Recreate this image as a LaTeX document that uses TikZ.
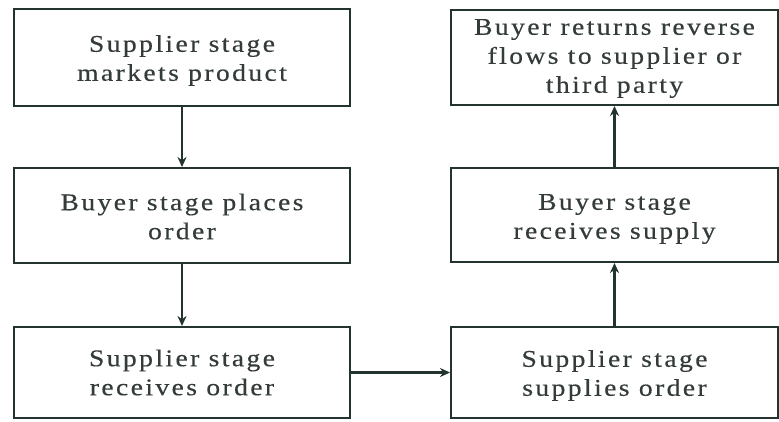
\documentclass[tikz,border=0pt]{standalone}
\usepackage{fontspec}
\setmainfont[FakeStretch=1.15, LetterSpace=10, FakeBold=0.4]{Liberation Serif}
\usetikzlibrary{arrows.meta}
\definecolor{ink}{HTML}{23332E}
\definecolor{txt}{HTML}{333C39}
\begin{document}
\begin{tikzpicture}[x=1pt,y=-1pt,
  stage/.style={draw=ink, line width=2pt, inner sep=0pt},
  words/.style={align=center, text=txt, inner sep=0pt,
    font=\fontsize{24}{29}\selectfont},
  flow/.style={draw=ink, line width=2.2pt,
    -{Stealth[length=10pt,width=9pt]}}]
\useasboundingbox (0,0) rectangle (779,421);
% left column: boxes
\node[stage, minimum width=336pt, minimum height=97pt] (sm) at (182,57.5) {};
\node[stage, minimum width=336pt, minimum height=95pt] (bp) at (182,215.5) {};
\node[stage, minimum width=336pt, minimum height=91pt] (sr) at (182,372.5) {};
% right column: boxes
\node[stage, minimum width=327pt, minimum height=95pt] (br) at (614.5,57.5) {};
\node[stage, minimum width=327pt, minimum height=94pt] (bs) at (614.5,215) {};
\node[stage, minimum width=327pt, minimum height=91pt] (ss) at (614.5,372.5) {};
% box texts
\node[words] (sm-t) at ([yshift=-3pt]sm.center) {Supplier stage\\markets product};
\node[words] (bp-t) at ([yshift=-1pt]bp.center) {Buyer stage places\\order};
\node[words] (sr-t) at ([yshift=0pt]sr.center) {Supplier stage\\receives order};
\node[words] (br-t) at ([yshift=-1pt]br.center) {Buyer returns reverse\\flows to supplier or\\third party};
\node[words] (bs-t) at ([yshift=-4pt]bs.center) {Buyer stage\\receives supply};
\node[words] (ss-t) at ([yshift=-3pt]ss.center) {Supplier stage\\supplies order};
% connectors
\draw[flow] (sm) -- (bp);
\draw[flow] (bp) -- (sr);
\draw[flow] (sr) -- (ss);
\draw[flow] (ss) -- (bs);
\draw[flow] (bs) -- (br);
\end{tikzpicture}
\end{document}
